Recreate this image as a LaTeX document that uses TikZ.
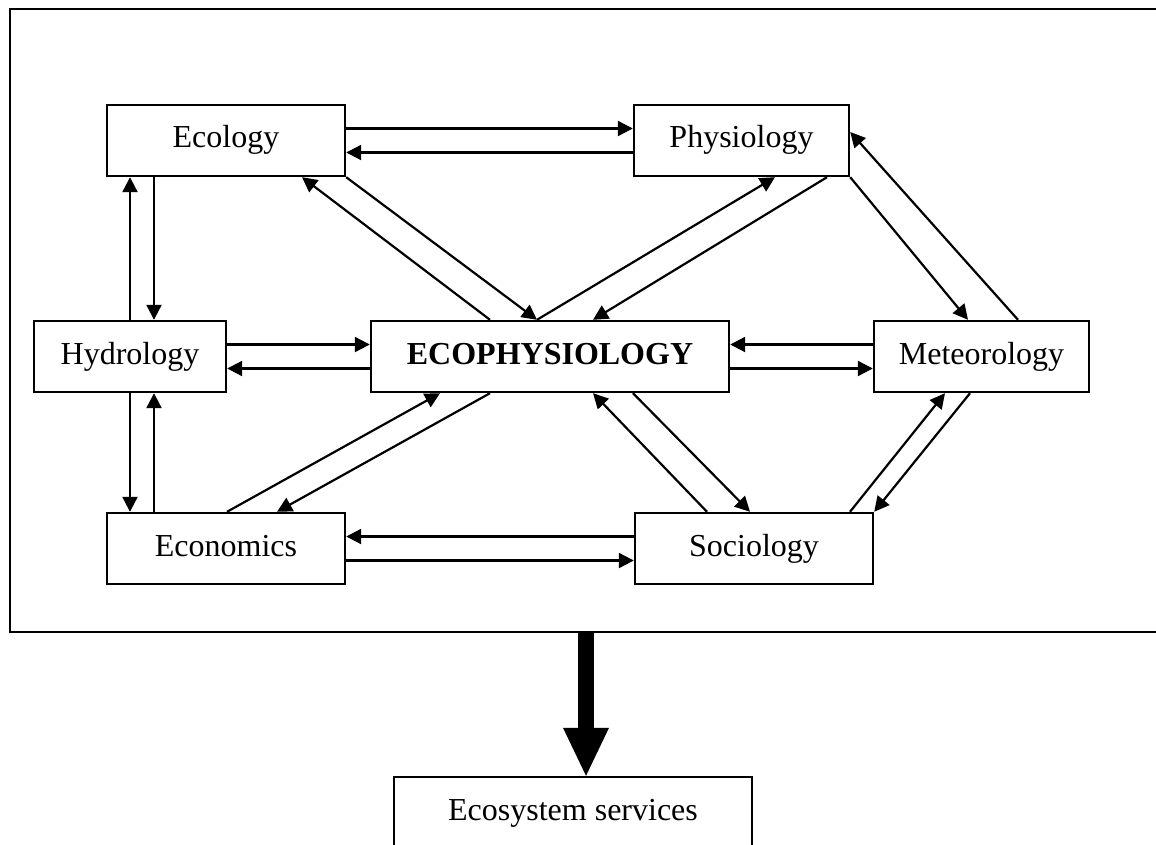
\documentclass[tikz,border=0pt]{standalone}
\usepackage{fontspec}
\setmainfont{Liberation Serif}
\usetikzlibrary{arrows.meta,calc}

\begin{document}
\begin{tikzpicture}[x=0.5pt,y=-0.5pt,font=\fontsize{16}{19}\selectfont,
    box/.style={draw, line width=1.2pt, inner sep=0pt, minimum height=35.5pt, text height=11pt, text depth=3.5pt},
    link/.style={line width=1.1pt, -{Triangle[length=7.5pt,width=7.5pt]}}]
  \useasboundingbox (0,0) rectangle (1156,845);
  \clip (0,0) rectangle (1156,845);
  % outer frame, open on the right
  \node[draw, line width=1.2pt, minimum width=580pt, minimum height=311.5pt] (frame) at (590,320.5) {};
  % disciplines
  \node[box, minimum width=119pt] (ecol) at (226,140.5) {Ecology};
  \node[box, minimum width=107.5pt] (phys) at (741.5,140.5) {Physiology};
  \node[box, minimum width=96pt] (hyd) at (130,356.5) {Hydrology};
  \node[box, minimum width=179pt, font=\fontsize{16}{19}\selectfont\bfseries] (eco) at (550,356.5) {ECOPHYSIOLOGY};
  \node[box, minimum width=107.5pt] (met) at (981.5,356.5) {Meteorology};
  \node[box, minimum width=119pt] (econ) at (226,548.5) {Economics};
  \node[box, minimum width=119pt] (soc) at (754,548.5) {Sociology};
  \node[box, minimum width=179pt] (svc) at (573,812.5) {Ecosystem services};
  % horizontal pairs
  \foreach \a/\b/\s/\t in {ecol/phys/-12/12, hyd/eco/-12/12, eco/met/12/-12, econ/soc/12/-12} {
    \draw[link] ($(\a.east)+(0,\s)$) -- ($(\b.west)+(0,\s)$);
    \draw[link] ($(\b.west)+(0,\t)$) -- ($(\a.east)+(0,\t)$);
  }
  % vertical pairs on the left
  \draw[link] (hyd.north) -- ($(ecol.south)+(-96,0)$);
  \draw[link] ($(ecol.south)+(-72,0)$) -- ($(hyd.north)+(24,0)$);
  \draw[link] (hyd.south) -- ($(econ.north)+(-96,0)$);
  \draw[link] ($(econ.north)+(-72,0)$) -- ($(hyd.south)+(24,0)$);
  % diagonals to and from the centre
  \draw[link] ($(eco.north)+(-60,0)$) -- ($(ecol.south)+(76,0)$);
  \draw[link] (ecol.south east) -- ($(eco.north)+(-13,0)$);
  \draw[link] ($(eco.north)+(-13,0)$) -- ($(phys.south)+(33.5,0)$);
  \draw[link] ($(phys.south)+(85.5,0)$) -- ($(eco.north)+(43,0)$);
  \draw[link] ($(eco.south)+(83,0)$) -- ($(soc.north)+(-4,0)$);
  \draw[link] ($(soc.north)+(-47,0)$) -- ($(eco.south)+(43,0)$);
  \draw[link] ($(econ.north)+(1,0)$) -- ($(eco.south)+(-110,0)$);
  \draw[link] ($(eco.south)+(-60,0)$) -- ($(econ.north)+(51,0)$);
  % right-hand side
  \draw[link] (phys.south east) -- ($(met.north)+(-13.5,0)$);
  \draw[link] ($(met.north)+(36.5,0)$) -- ($(phys.east)+(0,-8.5)$);
  \draw[link] ($(soc.north)+(96,0)$) -- ($(met.south)+(-36.5,0)$);
  \draw[link] ($(met.south)+(-11.5,0)$) -- (soc.north east);
  % big arrow down to the services
  \coordinate (drop) at ($(svc.north)+(13,0)$);
  \draw[line width=8pt, -{Triangle[length=24pt,width=23pt,line width=0pt]}] (drop |- frame.south) -- (drop);
\end{tikzpicture}
\end{document}
